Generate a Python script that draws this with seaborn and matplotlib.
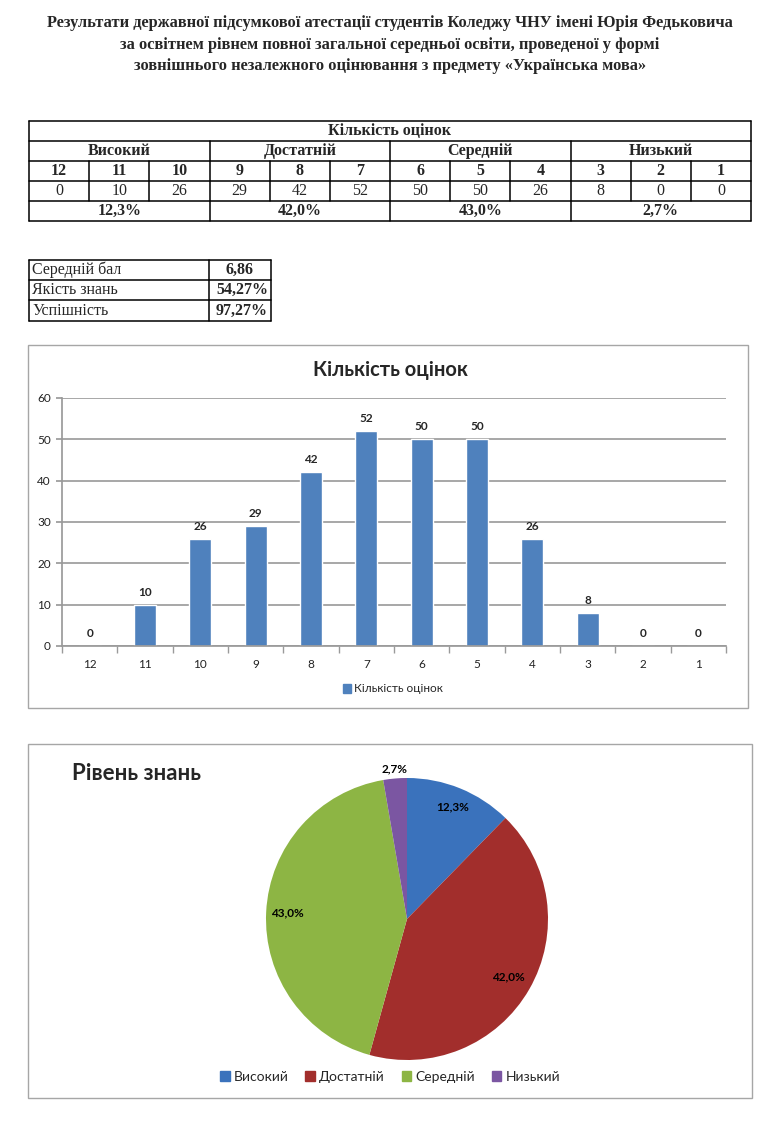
import matplotlib
matplotlib.use('Agg')
import matplotlib.pyplot as plt
import seaborn as sns
import pandas as pd
import numpy as np
from matplotlib.patches import Rectangle, Patch

title_lines = [
    'Результати державної підсумкової атестації студентів Коледжу ЧНУ імені Юрія Федьковича',
    'за освітнем рівнем повної загальної середньої освіти, проведеної у формі',
    'зовнішнього незалежного оцінювання з предмету «Українська мова»',
]
levels = ['Високий', 'Достатній', 'Середній', 'Низький']
grades = ['12', '11', '10', '9', '8', '7', '6', '5', '4', '3', '2', '1']
counts = [0, 10, 26, 29, 42, 52, 50, 50, 26, 8, 0, 0]
level_pct = [12.3, 42.0, 43.0, 2.7]
summary_names = ['Середній бал', 'Якість знань', 'Успішність']
summary_values = ['6,86', '54,27%', '97,27%']
bar_title = 'Кількість оцінок'
pie_title = 'Рівень знань'

bar_color = '#4F81BD'
level_colors = ['#3A72BC', '#A22E2C', '#8DB544', '#7B56A2']

sns.set_theme(style='white')
SERIF = ['Liberation Serif', 'DejaVu Serif']
SANS = ['Lato', 'Noto Sans', 'DejaVu Sans']
plt.rcParams['font.family'] = SANS

W, H = 780, 1122
fig = plt.figure(figsize=(7.8, 11.22), dpi=100)
fig.patch.set_facecolor('white')

# page axes in pixel units for text, tables and frames
page = fig.add_axes([0, 0, 1, 1], zorder=0)
page.set_xlim(0, W)
page.set_ylim(H, 0)
page.axis('off')

def pct(v):
    return f'{v:.1f}%'.replace('.', ',')

for i, line in enumerate(title_lines):
    page.text(390, 23 + 21.5 * i, line, ha='center', va='center', fontsize=11.8,
              fontweight='bold', family=SERIF)

# --- grade table ---
lw = 1.1
col_edges = np.linspace(29, 751, 13)
row_edges = [121, 141, 161, 181, 201, 221]
x0, x1 = col_edges[0], col_edges[-1]
for y in row_edges:
    page.plot([x0, x1], [y, y], color='black', lw=lw)
page.plot([x0, x0], [row_edges[0], row_edges[-1]], color='black', lw=lw)
page.plot([x1, x1], [row_edges[0], row_edges[-1]], color='black', lw=lw)
for k, x in enumerate(col_edges[1:-1], start=1):
    if k % 3 == 0:
        page.plot([x, x], [row_edges[1], row_edges[5]], color='black', lw=lw)
    else:
        page.plot([x, x], [row_edges[2], row_edges[4]], color='black', lw=lw)

def mid(a, b):
    return (a + b) / 2

fs_tab = 11.5
page.text(mid(x0, x1), mid(row_edges[0], row_edges[1]), bar_title, ha='center',
          va='center', fontsize=fs_tab, fontweight='bold', family=SERIF)
for g, (name, p) in enumerate(zip(levels, level_pct)):
    gx = mid(col_edges[3 * g], col_edges[3 * g + 3])
    page.text(gx, mid(row_edges[1], row_edges[2]), name, ha='center', va='center',
              fontsize=fs_tab, fontweight='bold', family=SERIF)
    page.text(gx, mid(row_edges[4], row_edges[5]), pct(p), ha='center', va='center',
              fontsize=fs_tab, fontweight='bold', family=SERIF)
for c, (gr, n) in enumerate(zip(grades, counts)):
    cx = mid(col_edges[c], col_edges[c + 1])
    page.text(cx, mid(row_edges[2], row_edges[3]), gr, ha='center', va='center',
              fontsize=fs_tab, fontweight='bold', family=SERIF)
    page.text(cx, mid(row_edges[3], row_edges[4]), str(n), ha='center', va='center',
              fontsize=fs_tab, family=SERIF)

# --- summary table ---
sx = [29, 209, 271]
sy = [260, 280, 300, 321]
for y in sy:
    page.plot([sx[0], sx[2]], [y, y], color='black', lw=lw)
for x in sx:
    page.plot([x, x], [sy[0], sy[-1]], color='black', lw=lw)
for r, (name, val) in enumerate(zip(summary_names, summary_values)):
    ym = mid(sy[r], sy[r + 1])
    page.text(sx[0] + 3, ym, name, ha='left', va='center', fontsize=fs_tab, family=SERIF)
    if r == 0:
        page.text(mid(sx[1], sx[2]), ym, val, ha='center', va='center', fontsize=fs_tab,
                  fontweight='bold', family=SERIF)
    else:
        page.text(sx[2] - 3, ym, val, ha='right', va='center', fontsize=fs_tab,
                  fontweight='bold', family=SERIF)

# --- chart frames ---
page.add_patch(Rectangle((28, 345), 720, 363, fc='none', ec='#A6A6A6', lw=1))
page.add_patch(Rectangle((28, 744), 724, 354, fc='none', ec='#A6A6A6', lw=1))

# --- bar chart ---
ax = fig.add_axes([62 / W, 1 - 646 / H, 664 / W, 248 / H], zorder=2)
df = pd.DataFrame({'grade': grades, 'count': counts})
sns.barplot(data=df, x='grade', y='count', order=grades, color=bar_color,
            width=0.4, saturation=1, ax=ax)
ax.bar_label(ax.containers[0], fontsize=8.5, fontweight='bold', padding=5)
ax.set_xlim(-0.5, len(grades) - 0.5)
ax.set_ylim(0, 60)
ax.set_yticks(range(0, 61, 10))
ax.yaxis.grid(True, color='#A0A0A0', lw=1.3)
ax.set_axisbelow(True)
ax.set_xlabel('')
ax.set_ylabel('')
ax.patch.set_alpha(0)
for s in ['top', 'right']:
    ax.spines[s].set_visible(False)
for s in ['left', 'bottom']:
    ax.spines[s].set_color('#9A9A9A')
ax.set_xticks(np.arange(-0.5, len(grades), 1), minor=True)
ax.tick_params(axis='x', which='major', length=0, pad=9, labelsize=8.5, colors='#222222')
ax.tick_params(axis='x', which='minor', length=5, color='#9A9A9A', bottom=True)
ax.tick_params(axis='y', length=4, color='#9A9A9A', left=True, labelsize=8.5,
               pad=4, labelcolor='#222222')

page.text(390, 370, bar_title, ha='center', va='center', fontsize=14.5, fontweight='bold')
fig.legend(handles=[Patch(color=bar_color, label=bar_title)], loc='center',
           bbox_to_anchor=(393 / W, 1 - 689 / H), frameon=False, fontsize=8.5,
           handlelength=0.7, handleheight=0.7, handletextpad=0.3)

# --- pie chart ---
r_px = 141
cx, cy = 407, 919
pax = fig.add_axes([(cx - r_px) / W, 1 - (cy + r_px) / H, 2 * r_px / W, 2 * r_px / H], zorder=2)
wedges, _ = pax.pie(level_pct, colors=level_colors, startangle=90, counterclock=False,
                    wedgeprops=dict(linewidth=0))
pax.set_xlim(-1, 1)
pax.set_ylim(-1, 1)
label_dist = [0.86, 0.83, 0.85, 1.07]
for w, p, d in zip(wedges, level_pct, label_dist):
    th = np.deg2rad((w.theta1 + w.theta2) / 2)
    pax.text(d * np.cos(th), d * np.sin(th), pct(p), ha='center', va='center',
             fontsize=8.5, fontweight='bold', color='black')

page.text(72, 773, pie_title, ha='left', va='center', fontsize=16, fontweight='bold')
fig.legend(handles=[Patch(color=c, label=l) for c, l in zip(level_colors, levels)],
           loc='center', bbox_to_anchor=(390 / W, 1 - 1077 / H), ncol=4, frameon=False,
           fontsize=10, handlelength=0.7, handleheight=0.7, handletextpad=0.3,
           columnspacing=1.2)

fig.savefig('out.png', dpi=100)
